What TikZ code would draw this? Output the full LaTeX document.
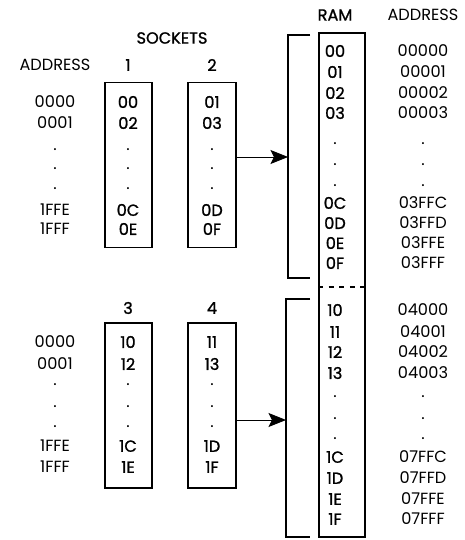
\documentclass[tikz,border=0pt]{standalone}
\usepackage{fontspec}
\setmainfont{Poppins}
\newfontfamily\medfont[FakeBold=1.2]{Poppins}
\usetikzlibrary{arrows.meta}

\begin{document}
\begin{tikzpicture}[x=0.02cm,y=-0.02cm,font=\fontsize{9.2}{11}\selectfont,
  sockbox/.style={draw,line width=1pt,minimum width=0.95cm,minimum height=3.3cm,inner sep=0pt},
  ttl/.style={font=\fontsize{9.2}{11}\medfont},
  ent/.style={font=\fontsize{9.2}{11}\medfont},
  feed/.style={line width=0.5pt,-{Stealth[length=10pt,width=8pt,inset=2pt]}},
  brk/.style={line width=0.6pt}]
 \useasboundingbox (0,0) rectangle (464,540);
 \node[ttl] (soc) at (172,38) {SOCKETS};
 \node (adl) at (55,65) {ADDRESS};
 \node[ttl] (n1) at (128,65) {1};
 \node[ttl] (n2) at (212,65) {2};
 \node[ttl] (ram) at (335,15) {RAM};
 \node (adr) at (423,15) {ADDRESS};
 \node[sockbox] (s1) at (128.5,165) {};
 \node[sockbox] (s2) at (212,165) {};
 \node[ttl] (n3) at (128,308) {3};
 \node[ttl] (n4) at (212,308) {4};
 \node[sockbox] (s3) at (128.5,405.5) {};
 \node[sockbox] (s4) at (212,405.5) {};
 \node[draw,line width=1pt,minimum width=0.92cm,minimum height=10.08cm,inner sep=0pt] (rb) at (342,285) {};
 \draw[dashed,line width=0.6pt] (rb.west |- 0,287) -- (rb.east |- 0,287);
 % upper sockets
 \node (a0) at (55,102) {0000};
 \node (a1) at (55,123) {0001};
 \node (a2) at (55,150) {.};
 \node (a3) at (55,169) {.};
 \node (a4) at (55,189) {.};
 \node (a5) at (55,210) {1FFE};
 \node (a6) at (55,229) {1FFF};
 \node[ent] (p0) at (128,102) {00};
 \node[ent] (p1) at (128,123) {02};
 \node (p2) at (128,150) {.};
 \node (p3) at (128,169) {.};
 \node (p4) at (128,189) {.};
 \node[ent] (p5) at (128,210) {0C};
 \node[ent] (p6) at (128,229) {0E};
 \node[ent] (q0) at (212,102) {01};
 \node[ent] (q1) at (212,123) {03};
 \node (q2) at (212,150) {.};
 \node (q3) at (212,169) {.};
 \node (q4) at (212,189) {.};
 \node[ent] (q5) at (212,210) {0D};
 \node[ent] (q6) at (212,229) {0F};
 % lower sockets
 \node (c0) at (55,342) {0000};
 \node (c1) at (55,364) {0001};
 \node (c2) at (55,385) {.};
 \node (c3) at (55,407) {.};
 \node (c4) at (55,427) {.};
 \node (c5) at (55,446) {1FFE};
 \node (c6) at (55,467) {1FFF};
 \node[ent] (r0) at (128,342) {10};
 \node[ent] (r1) at (128,364) {12};
 \node (r2) at (128,385) {.};
 \node (r3) at (128,407) {.};
 \node (r4) at (128,427) {.};
 \node[ent] (r5) at (128,446) {1C};
 \node[ent] (r6) at (128,467) {1E};
 \node[ent] (t0) at (212,342) {11};
 \node[ent] (t1) at (212,364) {13};
 \node (t2) at (212,385) {.};
 \node (t3) at (212,407) {.};
 \node (t4) at (212,427) {.};
 \node[ent] (t5) at (212,446) {1D};
 \node[ent] (t6) at (212,467) {1F};
 % ram, first half
 \node[ent] (m0) at (335,51) {00};
 \node[ent] (m1) at (335,72) {01};
 \node[ent] (m2) at (335,93) {02};
 \node[ent] (m3) at (335,113) {03};
 \node (m4) at (335,144) {.};
 \node (m5) at (335,165) {.};
 \node (m6) at (335,186) {.};
 \node[ent] (m7) at (335,203) {0C};
 \node[ent] (m8) at (335,223) {0D};
 \node[ent] (m9) at (335,243) {0E};
 \node[ent] (m10) at (335,263) {0F};
 \node (d0) at (423,51) {00000};
 \node (d1) at (423,72) {00001};
 \node (d2) at (423,93) {00002};
 \node (d3) at (423,113) {00003};
 \node (d4) at (423,144) {.};
 \node (d5) at (423,165) {.};
 \node (d6) at (423,186) {.};
 \node (d7) at (423,203) {03FFC};
 \node (d8) at (423,223) {03FFD};
 \node (d9) at (423,243) {03FFE};
 \node (d10) at (423,263) {03FFF};
 % ram, second half
 \node[ent] (k0) at (335,310) {10};
 \node[ent] (k1) at (335,332) {11};
 \node[ent] (k2) at (335,352) {12};
 \node[ent] (k3) at (335,373) {13};
 \node (k4) at (335,397) {.};
 \node (k5) at (335,419) {.};
 \node (k6) at (335,439) {.};
 \node[ent] (k7) at (335,457) {1C};
 \node[ent] (k8) at (335,478) {1D};
 \node[ent] (k9) at (335,499) {1E};
 \node[ent] (k10) at (335,519) {1F};
 \node (e0) at (423,310) {04000};
 \node (e1) at (423,332) {04001};
 \node (e2) at (423,352) {04002};
 \node (e3) at (423,373) {04003};
 \node (e4) at (423,397) {.};
 \node (e5) at (423,419) {.};
 \node (e6) at (423,439) {.};
 \node (e7) at (423,457) {07FFC};
 \node (e8) at (423,478) {07FFD};
 \node (e9) at (423,499) {07FFE};
 \node (e10) at (423,519) {07FFF};
 % brackets and feeds
 \coordinate (b1) at (288,157);
 \coordinate (b2) at (286,420);
 \draw[brk] (310,35) -- (288,35) -- (288,278) -- (310,278);
 \draw[brk] (310,299) -- (286,299) -- (286,537) -- (310,537);
 \draw[feed] (s2.east |- b1) -- (b1);
 \draw[feed] (s4.east |- b2) -- (b2);
\end{tikzpicture}
\end{document}
